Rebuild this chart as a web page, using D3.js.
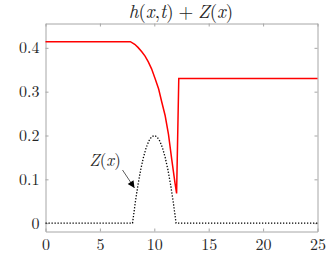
<!DOCTYPE html>
<meta charset="utf-8">
<script src="https://d3js.org/d3.v7.min.js"></script>
<style>
  body { margin: 0; background: #fff; }
  svg text { font-family: "Latin Modern Roman", "Liberation Serif", serif; fill: #262626; }
</style>
<div id="chart"></div>
<script>
// data
var xTicks = [0, 5, 10, 15, 20, 25];
var yTicks = [0, 0.1, 0.2, 0.3, 0.4];
var yTickLabels = ["0", "0.1", "0.2", "0.3", "0.4"];

// h(x,t) + Z(x)
var surfX = [0, 7.8, 8.2, 8.5, 8.85, 9.15, 9.45, 9.75, 10.07, 10.4, 10.68, 11.0, 11.3, 11.6, 11.9, 12.05, 12.25, 25];
var surfY = [0.414, 0.414, 0.408, 0.401, 0.391, 0.381, 0.368, 0.352, 0.330, 0.306, 0.277, 0.245, 0.203, 0.146, 0.092, 0.068, 0.330, 0.330];

// bottom Z(x)
var bedX = [0, 8, 8.25, 8.5, 8.75, 9, 9.25, 9.5, 9.75, 10, 10.25, 10.5, 10.75, 11, 11.25, 11.5, 11.75, 12, 25];
var bedY = [0, 0, 0.047, 0.0875, 0.122, 0.15, 0.172, 0.1875, 0.197, 0.2, 0.197, 0.1875, 0.172, 0.15, 0.122, 0.0875, 0.047, 0, 0];

var W = 330, H = 255;
var margin = {top: 23.5, right: 12.5, bottom: 23.5, left: 45.5};
var width = W - margin.left - margin.right,
    height = H - margin.top - margin.bottom;

var svg = d3.select("#chart").append("svg")
    .attr("width", W)
    .attr("height", H);

var g = svg.append("g")
    .attr("transform", "translate(" + margin.left + "," + margin.top + ")");

var x = d3.scaleLinear().domain([0, 25]).range([0, width]);
var y = d3.scaleLinear().domain([-0.019, 0.4555]).range([height, 0]);

// axes box, ticks inward
var axisColor = "#a6a6a6";
g.append("g")
    .attr("transform", "translate(0," + height + ")")
    .call(d3.axisBottom(x).tickValues(xTicks).tickSizeInner(-3).tickSizeOuter(0).tickPadding(7).tickFormat(d3.format("d")));
g.append("g")
    .call(d3.axisTop(x).tickValues(xTicks).tickSizeInner(-3).tickSizeOuter(0).tickFormat(""));
g.append("g")
    .call(d3.axisLeft(y).tickValues(yTicks).tickSizeInner(-3).tickSizeOuter(0).tickPadding(6)
      .tickFormat(function(d, i) { return yTickLabels[i]; }));
g.append("g")
    .attr("transform", "translate(" + width + ",0)")
    .call(d3.axisRight(y).tickValues(yTicks).tickSizeInner(-3).tickSizeOuter(0).tickFormat(""));

g.selectAll(".domain, .tick line").attr("stroke", axisColor);
g.selectAll("g").attr("font-family", null).attr("font-size", null);
g.selectAll(".tick text")
    .style("font-size", "16px")
    .attr("fill", "#262626");

var line = d3.line()
    .x(function(d) { return x(d[0]); })
    .y(function(d) { return y(d[1]); });

// bottom, dotted
g.append("path")
    .datum(d3.zip(bedX, bedY))
    .attr("d", line)
    .attr("fill", "none")
    .attr("stroke", "#000")
    .attr("stroke-width", 1.3)
    .attr("stroke-dasharray", "1.3,1.7");

// surface
g.append("path")
    .datum(d3.zip(surfX, surfY))
    .attr("d", line)
    .attr("fill", "none")
    .attr("stroke", "#ff0000")
    .attr("stroke-width", 1.5)
    .attr("stroke-linejoin", "miter");

// annotation arrow
svg.append("defs").append("marker")
    .attr("id", "head")
    .attr("viewBox", "0 0 10 10")
    .attr("refX", 10).attr("refY", 5)
    .attr("markerWidth", 9).attr("markerHeight", 7)
    .attr("markerUnits", "userSpaceOnUse")
    .attr("orient", "auto")
  .append("path")
    .attr("d", "M0,0 L10,5 L0,10 z")
    .attr("fill", "#000");

svg.append("line")
    .attr("x1", 122.5).attr("y1", 170)
    .attr("x2", 134.5).attr("y2", 188)
    .attr("stroke", "#333")
    .attr("stroke-width", 0.8)
    .attr("marker-end", "url(#head)");

var ann = svg.append("text")
    .attr("x", 105).attr("y", 166)
    .attr("text-anchor", "middle")
    .style("font-size", "17px");
ann.append("tspan").style("font-style", "italic").text("Z");
ann.append("tspan").text("(");
ann.append("tspan").style("font-style", "italic").text("x");
ann.append("tspan").text(")");

// title
var title = svg.append("text")
    .attr("x", 181)
    .attr("y", 17.5)
    .attr("text-anchor", "middle")
    .style("font-size", "19px");
title.append("tspan").style("font-style", "italic").text("h");
title.append("tspan").text("(");
title.append("tspan").style("font-style", "italic").text("x");
title.append("tspan").text(",");
title.append("tspan").style("font-style", "italic").text("t");
title.append("tspan").text(")\u2005+\u2005");
title.append("tspan").style("font-style", "italic").text("Z");
title.append("tspan").text("(");
title.append("tspan").style("font-style", "italic").text("x");
title.append("tspan").text(")");
</script>
